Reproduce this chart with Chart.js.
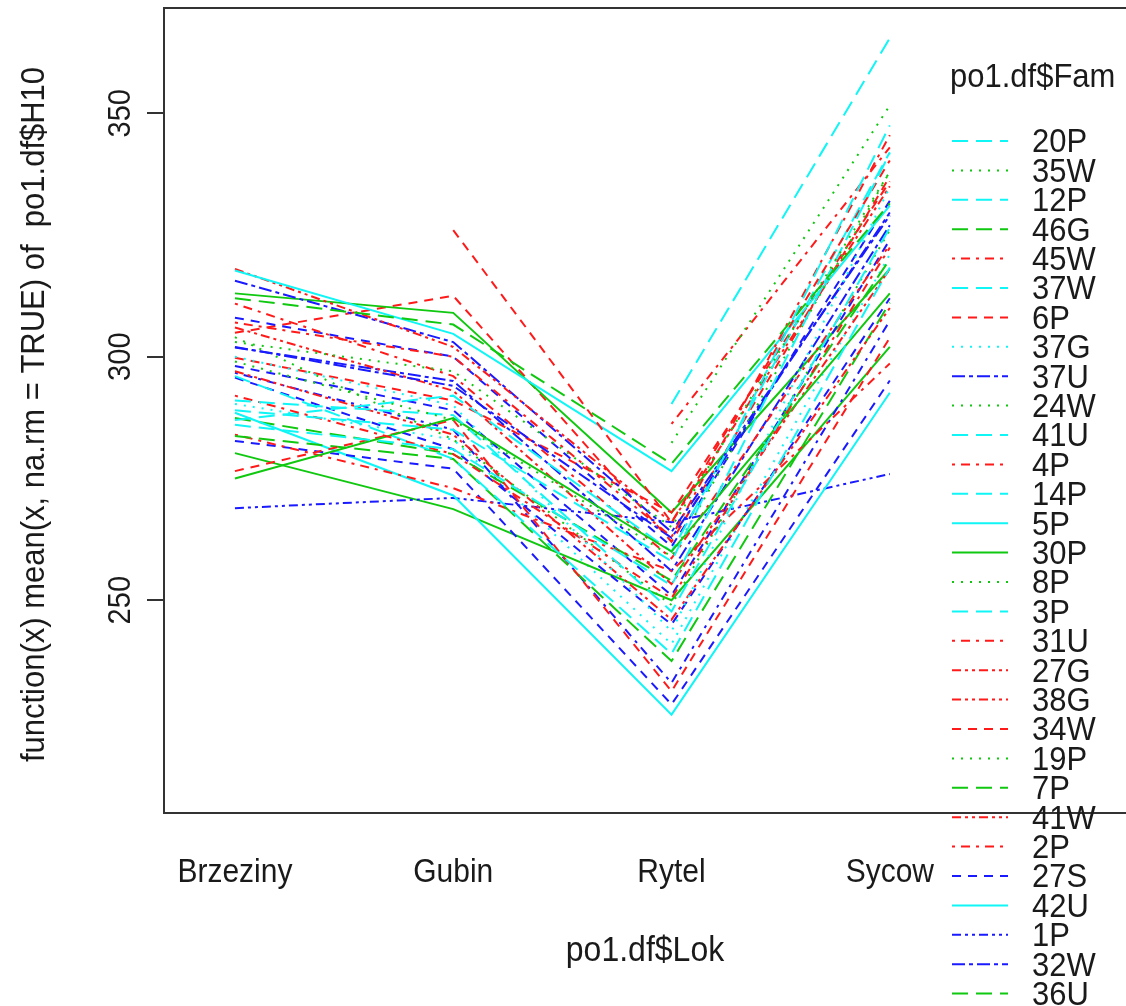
<!DOCTYPE html>
<html>
<head>
<meta charset="utf-8">
<title>Interaction plot H10</title>
<script src="https://cdn.jsdelivr.net/npm/chart.js@4.4.1/dist/chart.umd.min.js"></script>
<style>
  html, body { margin: 0; padding: 0; background: #fff; overflow: hidden; }
  canvas { display: block; }
</style>
</head>
<body>
<canvas id="plot" width="1126" height="1006"></canvas>
<script>
// Locations on the x axis
const locations = ['Brzeziny', 'Gubin', 'Rytel', 'Sycow'];

// Family codes, in legend order (the legend runs past the bottom edge,
// so only these first 30 rows are on the canvas)
const families = ['20P', '35W', '12P', '46G', '45W', '37W', '6P', '37G', '37U', '24W',
  '41U', '4P', '14P', '5P', '30P', '8P', '3P', '31U', '27G', '38G',
  '34W', '19P', '7P', '41W', '2P', '27S', '42U', '1P', '32W', '36U'];

// Mean H10 per family at each location (null = no data)
const brzeziny = [294, 303, 289, 312, 307, 286, null, 300, 302, 299,
  291, 292, 296, 317.7, 275, 304, 287, 310.9, 306, 297,
  276.5, 301, 283.7, 318, 284, 282.7, 288.5, 268.9, 315.6, 287.4,
  308, 301.9, 298.1, 296.7, 295.7, 280.2, 299.8, 313, 304.9, 290.3, 313];
const gubin = [null, 297, 285, 306.6, 300, 281, 326, 290, 294, 287,
  288, 280, 279, 304.7, 287.4, 283, 292, 296, 293, 284,
  287, null, 279, 302, 273, 277, 271.5, 271, 303, 280,
  300, 295, 289, 285, 281, 268.7, 291, 309, 312.5, 283, null];
const rytel = [290.3, 265, 258, 278, 263, 253, 266, 243.6, 262.8, 259,
  247.7, 250.4, 239, 276.5, 260, 249, 260, 258.6, 253.3, 246,
  231.3, 282.3, 237.5, 266, 256, 228.6, 226.5, 266, 264, 254,
  261, 256, 251, 233, 245, 250, 268, 268, 262, 241, 286.2];
const sycow = [365.4, 338, 347.5, 331.5, 345.5, 341.8, 340.3, 334.8, 329.6, 338,
  326.5, 322.4, 318.3, 331, 313, 326, 342, 323, 318, 310,
  303.9, 351.6, 311.1, 335, 298.6, 295.1, 292.6, 275.9, 329, 320,
  332, 327, 324, 307.4, 312, 302, 336, 318, 337, 321, 343];

// Line colour and line type of every family
const familyColours = ['cyan', 'green', 'cyan', 'green', 'red', 'cyan', 'red', 'cyan', 'blue', 'green',
  'cyan', 'red', 'cyan', 'cyan', 'green', 'green', 'cyan', 'red', 'red', 'red',
  'red', 'green', 'green', 'red', 'red', 'blue', 'cyan', 'blue', 'blue', 'green',
  'blue', 'blue', 'blue', 'blue', 'blue', 'green', 'red', 'green', 'red', 'cyan', 'red'];
const familyLty = ['longdash', 'dotted', 'longdash', 'longdash', 'dotdash', 'longdash', 'dashed', 'dotted', 'twodash', 'dotted',
  'longdash', 'dotdash', 'longdash', 'solid', 'solid', 'dotted', 'longdash', 'dotdash', 'dotdotdash', 'dotdotdash',
  'dashed', 'dotted', 'longdash', 'dotdotdash', 'dotdash', 'dashed', 'solid', 'dotdotdash', 'twodash', 'longdash',
  'dashed', 'twodash', 'dashed', 'dotdash', 'dashed', 'solid', 'dashed', 'solid', 'dashed', 'dotted', 'dotdash'];

const palette = { red: '#FF1A1A', green: '#10C810', blue: '#1A1AFF', cyan: '#10F5F5' };
const dashes = {
  solid: [],
  dashed: [9, 7],
  dotted: [2, 7],
  dotdash: [3, 6, 9, 6],
  longdash: [16, 8],
  twodash: [13, 4, 4, 4],
  dotdotdash: [9, 4, 3, 4, 3, 4]
};

const FONT = '"Liberation Sans", Arial, sans-serif';
const TEXT = '#1a1a1a';
const FRAME = '#333333';
const STRETCH = 1.1;   // text is a little taller than it is wide

const datasets = brzeziny.map(function(_, i) {
  const vals = [brzeziny[i], gubin[i], rytel[i], sycow[i]];
  return {
    label: families[i] || '',
    data: vals.map(function(v, j) { return { x: j, y: v }; }),
    borderColor: palette[familyColours[i]],
    borderDash: dashes[familyLty[i]],
    borderWidth: 2,
    pointRadius: 0,
    tension: 0,
    fill: false
  };
});

function drawText(ctx, str, x, y, rotate) {
  ctx.save();
  ctx.translate(x, y);
  if (rotate) {
    ctx.rotate(-Math.PI / 2);
  }
  ctx.scale(1, STRETCH);
  ctx.fillText(str, 0, 0);
  ctx.restore();
}

// Box top edge, axis text and the family legend
const annotate = {
  id: 'annotate',
  afterDraw(chart) {
    const ctx = chart.ctx;
    const area = chart.chartArea;
    const x = chart.scales.x;
    const y = chart.scales.y;
    ctx.save();

    ctx.strokeStyle = FRAME;
    ctx.lineWidth = 2;
    ctx.beginPath();
    ctx.moveTo(area.left - 1, area.top);
    ctx.lineTo(area.right + 2, area.top);
    ctx.stroke();

    ctx.fillStyle = TEXT;
    ctx.font = '30px ' + FONT;
    ctx.textAlign = 'center';
    ctx.textBaseline = 'middle';
    locations.forEach(function(name, i) {
      drawText(ctx, name, x.getPixelForValue(i), 873);
    });
    ctx.font = '32px ' + FONT;
    drawText(ctx, 'po1.df$Lok', (area.left + area.right) / 2, 951);

    ctx.font = '29px ' + FONT;
    y.ticks.forEach(function(t) {
      drawText(ctx, String(t.value), 121, y.getPixelForValue(t.value), true);
    });
    ctx.font = '31px ' + FONT;
    drawText(ctx, 'function(x) mean(x, na.rm = TRUE) of  po1.df$H10', 35, (area.top + area.bottom) / 2 + 4, true);

    // legend
    ctx.textAlign = 'left';
    ctx.font = '31px ' + FONT;
    drawText(ctx, 'po1.df$Fam', 950, 78);
    chart.data.datasets.forEach(function(ds, i) {
      if (!ds.label) return;
      const ly = 141 + i * 29.4;
      ctx.strokeStyle = ds.borderColor;
      ctx.lineWidth = 2;
      ctx.setLineDash(ds.borderDash);
      ctx.beginPath();
      ctx.moveTo(952, ly);
      ctx.lineTo(1008, ly);
      ctx.stroke();
      ctx.setLineDash([]);
      drawText(ctx, ds.label, 1032, ly + 2);
    });
    ctx.restore();
  }
};

new Chart(document.getElementById('plot'), {
  type: 'line',
  data: { datasets: datasets },
  options: {
    responsive: false,
    animation: false,
    layout: { padding: { top: 8, right: 0, left: 0, bottom: 0 } },
    plugins: { legend: { display: false }, tooltip: { enabled: false } },
    scales: {
      x: {
        type: 'linear',
        min: -0.325,
        max: 4.082,
        afterBuildTicks: function(scale) {
          scale.ticks = locations.map(function(_, i) { return { value: i }; });
        },
        afterFit: function(scale) { scale.height = 193; },
        ticks: { display: false },
        grid: { display: false },
        border: { display: true, color: FRAME, width: 2 }
      },
      y: {
        min: 206.3,
        max: 371.6,
        afterBuildTicks: function(scale) {
          scale.ticks = [250, 300, 350].map(function(v) { return { value: v }; });
        },
        afterFit: function(scale) { scale.width = 164; },
        ticks: { display: false },
        grid: { drawOnChartArea: false, drawTicks: true, tickLength: 17, color: FRAME, lineWidth: 2 },
        border: { display: true, color: FRAME, width: 2 }
      }
    }
  },
  plugins: [annotate]
});
</script>
</body>
</html>
